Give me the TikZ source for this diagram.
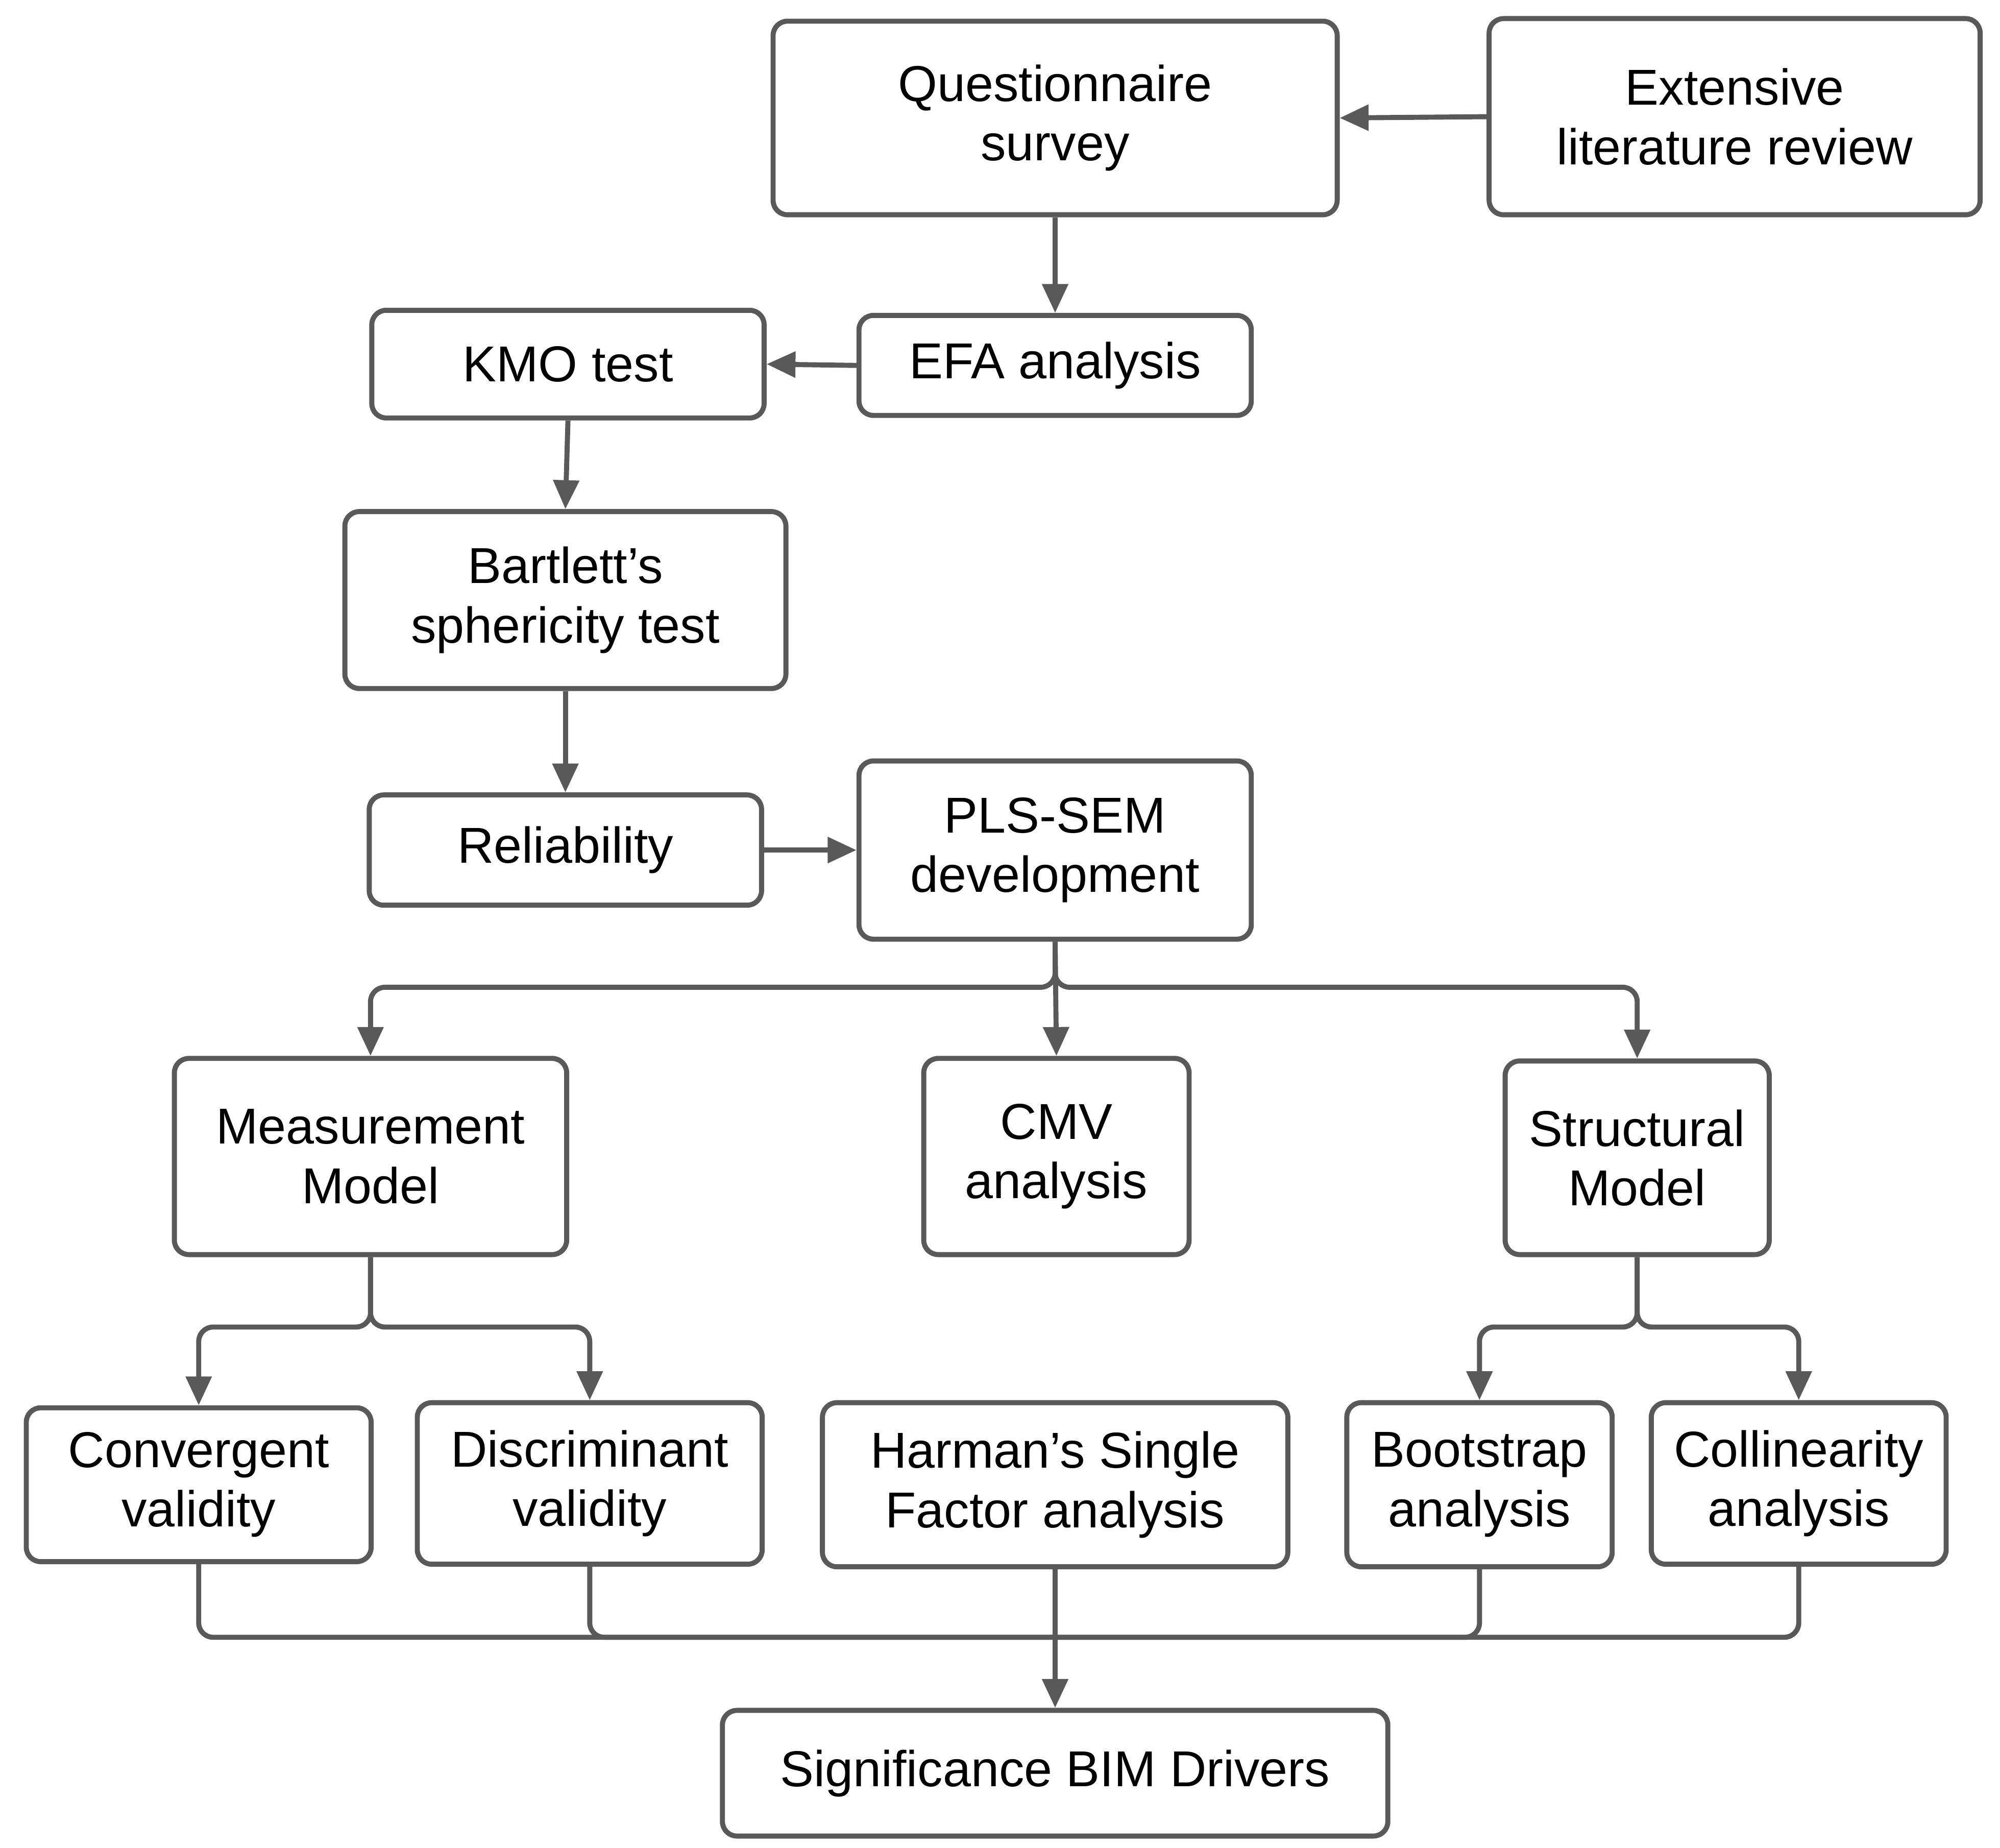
\documentclass[tikz,border=0pt]{standalone}
\usepackage{fontspec}
\setmainfont{Liberation Sans}
\usetikzlibrary{arrows.meta}
\definecolor{ln}{HTML}{595959}
\begin{document}
\begin{tikzpicture}[x=0.025cm,y=-0.025cm,
 box/.style={draw=ln,line width=2.8pt,rounded corners=8pt,align=center,font=\fontsize{28}{33}\selectfont,inner sep=0pt},
 ar/.style={draw=ln,line width=2.8pt,-{Triangle[length=16pt,width=14pt]},rounded corners=8pt},
 ln/.style={draw=ln,line width=2.8pt,rounded corners=8pt}]
\useasboundingbox (0,0) rectangle (1560,1441);
\newcommand{\bx}[7]{\node[box,minimum width=#4*0.025cm,minimum height=#5*0.025cm] (#1) at (#2,#3) {#6};}
\bx{q}{823}{92}{440}{151}{Questionnaire\\survey}{}
\bx{lit}{1353}{91}{383}{153}{Extensive\\literature review}{}
\bx{efa}{823}{285}{306}{78}{EFA analysis}{}
\bx{kmo}{443}{284}{306}{84}{KMO test}{}
\bx{bar}{441}{468}{344}{138}{Bartlett’s\\sphericity test}{}
\bx{rel}{441}{663}{306}{86}{Reliability}{}
\bx{pls}{823}{663}{306}{139}{PLS-SEM\\development}{}
\bx{mm}{289}{902}{306}{153}{Measurement\\Model}{}
\bx{cmv}{824}{902}{207}{153}{CMV\\analysis}{}
\bx{sm}{1277}{903}{206}{151}{Structural\\Model}{}
\bx{cv}{155}{1158}{269}{120}{Convergent\\validity}{}
\bx{dv}{460}{1157}{269}{126}{Discriminant\\validity}{}
\bx{hf}{823}{1158}{363}{128}{Harman's Single\\Factor analysis}{}
\bx{bs}{1154}{1158}{207}{128}{Bootstrap\\analysis}{}
\bx{ca}{1403}{1157}{230}{126}{Collinearity\\analysis}{}
\bx{sig}{823}{1383}{519}{98}{Significance BIM Drivers}{}
\draw[ar] (lit.west) -- (q.east);
\draw[ar] (q.south) -- (efa.north);
\draw[ar] (efa.west) -- (kmo.east);
\draw[ar] (kmo.south) -- (bar.north);
\draw[ar] (bar.south) -- (rel.north);
\draw[ar] (rel.east) -- (pls.west);
\draw[ar] (pls.south) -- (cmv.north);
\draw[ar] (pls.south) |- (289,770) -- (mm.north);
\draw[ar] (pls.south) |- (1277,770) -- (sm.north);
\draw[ar] (mm.south) |- (155,1035) -- (cv.north);
\draw[ar] (mm.south) |- (460,1035) -- (dv.north);
\draw[ar] (sm.south) |- (1154,1035) -- (bs.north);
\draw[ar] (sm.south) |- (1403,1035) -- (ca.north);
\draw[ar] (hf.south) -- (sig.north);
\draw[ln] (cv.south) |- (823,1277);
\draw[ln] (dv.south) |- (823,1277);
\draw[ln] (bs.south) |- (823,1277);
\draw[ln] (ca.south) |- (823,1277);
\end{tikzpicture}
\end{document}
